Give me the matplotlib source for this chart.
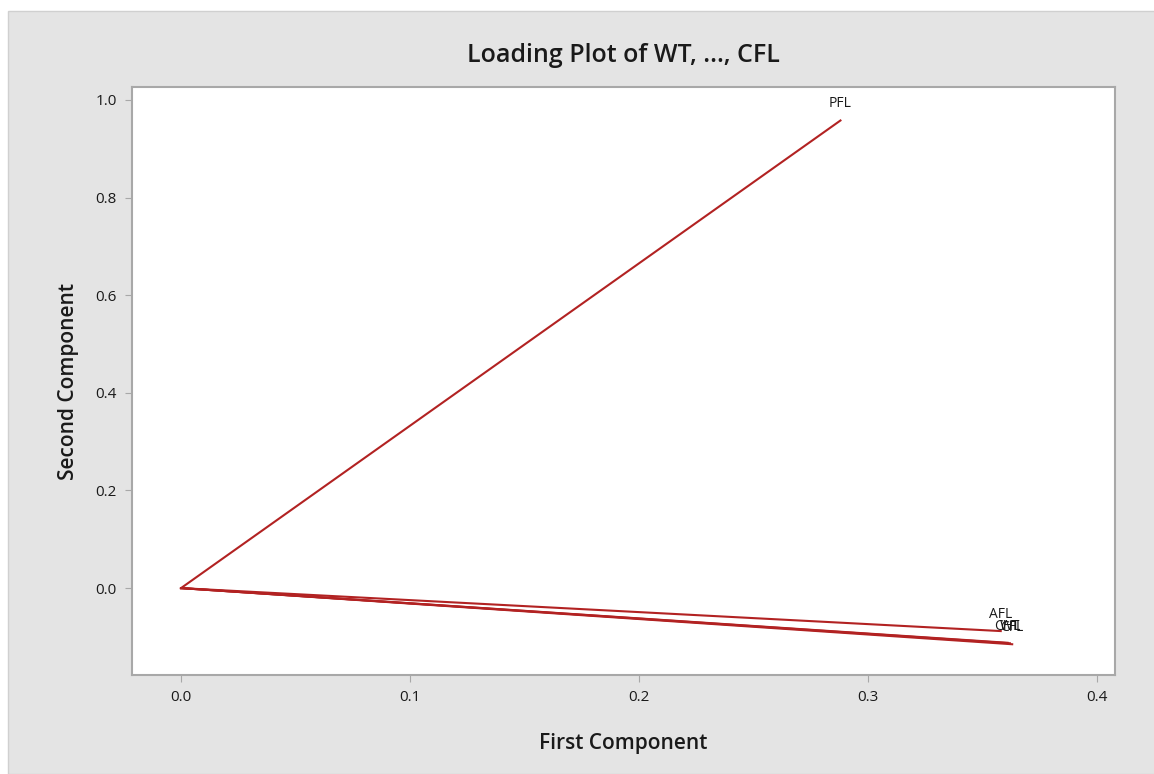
import numpy as np
import matplotlib.pyplot as plt
from matplotlib.patches import Rectangle

plt.rcParams['font.family'] = ['Open Sans', 'DejaVu Sans']

# loadings
variables = ['WT', 'AFL', 'PFL', 'CFL', 'CHL']
first_comp = np.array([0.362, 0.358, 0.288, 0.363, 0.361])
second_comp = np.array([-0.113, -0.088, 0.958, -0.115, -0.112])

fig = plt.figure(figsize=(11.54, 7.74), dpi=100)
fig.patch.set_facecolor('white')
fig.patches.append(Rectangle((8 / 1154, 0), 1, 1 - 11 / 774, transform=fig.transFigure,
                             facecolor='#E4E4E4', edgecolor='#D0D0D0', lw=1, zorder=-10))

ax = fig.add_axes([132 / 1154, 1 - 675 / 774, (1115 - 132) / 1154, (675 - 87) / 774])
ax.set_facecolor('white')

line_col = '#B22222'
for name, x, y in zip(variables, first_comp, second_comp):
    ax.plot([0, x], [0, y], color=line_col, lw=1.5)
    # labels overlap at the lower right, as in the original
    ax.annotate(name, (x, y), xytext=(0, 12), textcoords='offset points',
                ha='center', va='center', fontsize=10, color='#1a1a1a')

ax.set_xlim(-0.0214, 0.4079)
ax.set_ylim(-0.178, 1.0266)
ax.set_xticks([0.0, 0.1, 0.2, 0.3, 0.4])
ax.set_yticks([0.0, 0.2, 0.4, 0.6, 0.8, 1.0])
ax.xaxis.set_major_formatter(plt.FormatStrFormatter('%.1f'))
ax.yaxis.set_major_formatter(plt.FormatStrFormatter('%.1f'))

for s in ax.spines.values():
    s.set_color('#A8A8A8')
    s.set_linewidth(1.5)
ax.tick_params(direction='out', length=5, color='#A8A8A8', labelsize=11,
               labelcolor='#1a1a1a', pad=6)

ax.set_title('Loading Plot of WT, ..., CFL', fontsize=18, fontweight='semibold',
             color='#1a1a1a', pad=18)
ax.set_xlabel('First Component', fontsize=15, fontweight='semibold',
              color='#1a1a1a', labelpad=20)
ax.set_ylabel('Second Component', fontsize=15, fontweight='semibold',
              color='#1a1a1a', labelpad=12)

fig.savefig('out.png', dpi=100, facecolor=fig.get_facecolor())
